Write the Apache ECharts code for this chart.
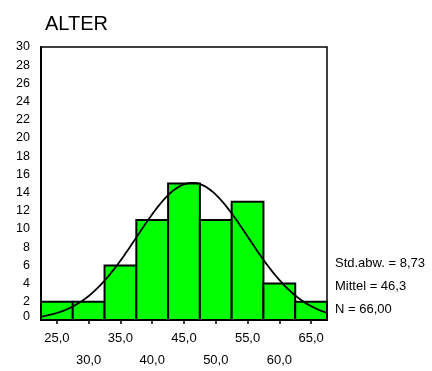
<!DOCTYPE html>
<html>
<head>
<meta charset="utf-8">
<script src="https://cdn.jsdelivr.net/npm/echarts@6/dist/echarts.min.js"></script>
<style>
  html, body { margin: 0; padding: 0; background: #fff; }
  #chart { width: 432px; height: 371px; }
</style>
</head>
<body>
<div id="chart"></div>
<script>
// Age histogram (ALTER) with fitted normal curve
const binCenters = [25, 30, 35, 40, 45, 50, 55, 60, 65];
const binCounts  = [2, 2, 6, 11, 15, 11, 13, 4, 2];
const binWidth = 5;
const yTicks = [0, 2, 4, 6, 8, 10, 12, 14, 16, 18, 20, 22, 24, 26, 28, 30];
const xTicks = [25, 30, 35, 40, 45, 50, 55, 60, 65];
const stdDev = 8.73;
const mean = 46.3;
const nCases = 66;
const statLines = ['Std.abw. = 8,73', 'Mittel = 46,3', 'N = 66,00'];

const xMin = binCenters[0] - binWidth / 2;
const xMax = binCenters[binCenters.length - 1] + binWidth / 2;

// normal density scaled to counts per bin
const curve = [];
const steps = 180;
for (let i = 0; i <= steps; i++) {
  const x = xMin + (xMax - xMin) * i / steps;
  const z = (x - mean) / stdDev;
  const y = nCases * binWidth * Math.exp(-0.5 * z * z) / (stdDev * Math.sqrt(2 * Math.PI));
  curve.push([x, y]);
}

const bars = binCenters.map((c, i) => [c - binWidth / 2, c + binWidth / 2, binCounts[i]]);

const FONT = '"Liberation Sans", Arial, sans-serif';
const fmtComma = v => v.toFixed(1).replace('.', ',');

const chart = echarts.init(document.getElementById('chart'), null, { renderer: 'canvas' });
chart.setOption({
  animation: false,
  backgroundColor: '#fff',
  title: {
    text: 'ALTER',
    left: 40, top: 9,
    textStyle: { fontFamily: FONT, fontSize: 20, fontWeight: 'normal', color: '#000' }
  },
  grid: {
    left: 41, right: 105, top: 47, bottom: 49,
    show: true, borderColor: '#000', borderWidth: 1.5, backgroundColor: 'transparent'
  },
  xAxis: {
    type: 'value', min: xMin, max: xMax,
    splitLine: { show: false },
    axisLine: { show: true, lineStyle: { color: '#000', width: 2 } },
    axisTick: { show: true, customValues: xTicks, length: 4, lineStyle: { color: '#000', width: 1.5 } },
    axisLabel: {
      customValues: xTicks,
      margin: 7,
      fontFamily: FONT, fontSize: 13, color: '#000', lineHeight: 22,
      formatter: v => {
        const idx = xTicks.indexOf(Math.round(v));
        return idx % 2 === 0 ? fmtComma(v) : '\n' + fmtComma(v);
      }
    }
  },
  yAxis: {
    type: 'value', min: 0, max: 30, interval: 2,
    splitLine: { show: false },
    axisLine: { show: true, lineStyle: { color: '#000', width: 2 } },
    axisTick: { show: false },
    axisLabel: {
      margin: 11,
      fontFamily: FONT, fontSize: 12.5, color: '#000',
      formatter: v => (yTicks.indexOf(v) < 0 ? '' : (v === 0 ? '{z|0}' : String(v))),
      rich: { z: { fontFamily: FONT, fontSize: 12.5, color: '#000', padding: [0, 0, 7, 0] } }
    }
  },
  series: [
    {
      type: 'custom',
      data: bars,
      encode: { x: [0, 1], y: 2 },
      renderItem: (params, api) => {
        const p0 = api.coord([api.value(0), 0]);
        const p1 = api.coord([api.value(1), api.value(2)]);
        return {
          type: 'rect',
          shape: { x: p0[0], y: p1[1], width: p1[0] - p0[0], height: p0[1] - p1[1] },
          style: { fill: '#00ff00', stroke: '#000', lineWidth: 2 }
        };
      },
      z: 2
    },
    {
      type: 'line',
      data: curve,
      showSymbol: false,
      smooth: false,
      lineStyle: { color: '#000', width: 1.8 },
      z: 3
    }
  ],
  graphic: statLines.map((t, i) => ({
    type: 'text',
    left: 335,
    top: 257 + i * 23,
    style: { text: t, fontFamily: FONT, fontSize: 13, fill: '#000' }
  }))
});
</script>
</body>
</html>
